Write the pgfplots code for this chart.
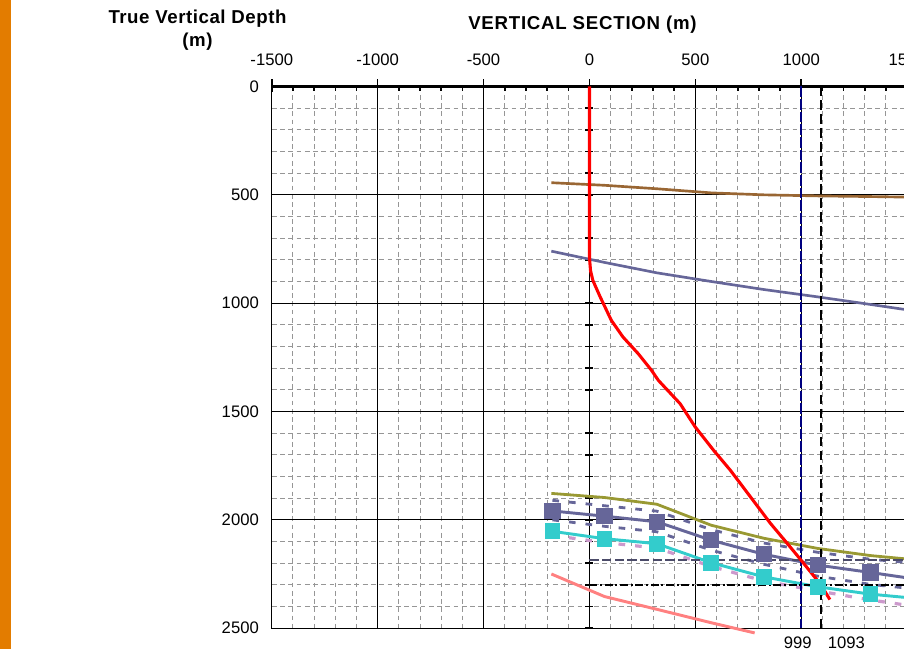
\documentclass[border=0pt]{standalone}
\usepackage{fontspec}
\setmainfont{Liberation Sans}
\usepackage{pgfplots}
\pgfplotsset{compat=1.18}

\definecolor{wellred}{RGB}{255,0,0}
\definecolor{hzbrown}{RGB}{153,102,51}
\definecolor{slate}{RGB}{102,102,153}
\definecolor{hzolive}{RGB}{153,153,51}
\definecolor{hzcyan}{RGB}{51,204,204}
\definecolor{lilac}{RGB}{204,153,204}
\definecolor{salmon}{RGB}{255,128,128}
\definecolor{navyline}{RGB}{0,0,128}
\definecolor{gridgray}{RGB}{150,150,150}
\definecolor{barorange}{RGB}{227,124,0}
\definecolor{tgtline}{RGB}{75,75,105}

\begin{document}
\begin{tikzpicture}
\begin{axis}[
  x=0.15885pt, y=0.1625pt,
  xmin=-1500, xmax=2000, ymin=0, ymax=2500,
  y dir=reverse,
  clip=false,
  xtick={-1500,-1000,...,2000},
  ytick={0,500,...,2500},
  minor x tick num=4, minor y tick num=4,
  grid=both,
  major grid style={black, line width=0.8pt},
  minor grid style={gridgray, line width=0.75pt, dash pattern=on 3.6pt off 2.6pt},
  major tick length=0pt, minor tick length=0pt,
  axis line style={black, line width=0.9pt},
  xticklabel pos=top,
  tick label style={font=\fontsize{12.5}{14}\selectfont},
  xticklabel style={anchor=base, yshift=15.9pt},
  yticklabel style={anchor=east, xshift=-6.2pt},
  /pgf/number format/assume math mode=true,
  /pgf/number format/set thousands separator={},
]
\coordinate (O) at (axis cs:-1500,0);

% top axis line and its tick marks
\draw[black, line width=1.7pt] (axis cs:-1500,0) -- (axis cs:2000,0);
\pgfplotsinvokeforeach{-1400,-1300,...,1900}{%
  \draw[black, line width=1.2pt] (axis cs:#1,0) -- ++(0pt,-3.4pt);
}
\pgfplotsinvokeforeach{-1500,-1000,...,2000}{%
  \draw[black, line width=1.2pt] (axis cs:#1,0) ++(0pt,5.4pt) -- ++(0pt,-9.3pt);
}
% depth axis through zero section
\draw[black, line width=1.1pt] (axis cs:0,0) -- (axis cs:0,2500);
\pgfplotsinvokeforeach{100,200,...,2500}{%
  \draw[black, line width=1.2pt] (axis cs:0,#1) ++(-3pt,0pt) -- ++(6pt,0pt);
}

% horizons
\addplot[hzbrown, line width=2pt] coordinates {
  (-180,444) (71,456) (318,472) (575,491) (823,500) (1078,505) (1327,508) (1600,512)};
\addplot[slate, line width=2pt] coordinates {
  (-180,760) (71,812) (318,860) (575,900) (823,937) (1078,971) (1327,1006) (1600,1045)};
\addplot[hzolive, line width=2.1pt] coordinates {
  (-180,1878) (71,1897) (318,1928) (575,2025) (823,2085) (1078,2132) (1327,2165) (1600,2190)};
\addplot[slate, line width=2.1pt, dash pattern=on 5pt off 7.5pt] coordinates {
  (-175,1910) (71,1935) (318,1960) (575,2045) (823,2107) (1078,2150) (1327,2182) (1600,2205)};
\addplot[slate, line width=2.1pt, dash pattern=on 5pt off 7.5pt] coordinates {
  (-175,2000) (71,2030) (318,2055) (575,2140) (823,2205) (1078,2260) (1327,2298) (1600,2325)};
\addplot[lilac, line width=2.4pt, dash pattern=on 5pt off 7.5pt] coordinates {
  (-175,2072) (71,2105) (318,2130) (575,2215) (823,2282) (1078,2328) (1327,2370) (1600,2408)};
\addplot[salmon, line width=2.2pt] coordinates {
  (-180,2250) (71,2354) (318,2413) (575,2475) (780,2522)};
\addplot[slate, line width=2.2pt, mark=square*, mark size=5pt] coordinates {
  (-175,1959) (71,1983) (318,2009) (575,2094) (823,2159) (1078,2209) (1327,2243) (1600,2282)};
\addplot[hzcyan, line width=2.2pt, mark=square*, mark size=4.8pt] coordinates {
  (-175,2053) (71,2087) (318,2110) (575,2198) (823,2263) (1078,2309) (1327,2343) (1600,2368)};

% target depths and sections
\addplot[tgtline, line width=1.8pt, dash pattern=on 7pt off 2.5pt] coordinates {(0,2185) (2000,2185)};
\addplot[black, line width=1.8pt, dash pattern=on 6pt off 2pt on 1.5pt off 2pt] coordinates {(0,2300) (2000,2300)};
\addplot[navyline, line width=1.7pt, dash pattern=on 8pt off 1.5pt] coordinates {(999,0) (999,2500)};
\addplot[black, line width=2pt, dash pattern=on 7pt off 3.5pt] coordinates {(1093,0) (1093,2500)};

% well path
\addplot[wellred, line width=2.3pt] coordinates {
  (0,0) (0,790) (5,850) (16,895) (50,970) (103,1079) (158,1156) (230,1233)
  (293,1310) (325,1356) (428,1464) (499,1571) (586,1679) (665,1771)
  (760,1894) (855,2017) (934,2109) (999,2186) (1093,2300) (1135,2368)};

\node[anchor=base, font=\fontsize{12.5}{14}\selectfont, xshift=-2.5pt, yshift=-15pt] at (axis cs:999,2500) {999};
\node[anchor=base, font=\fontsize{12.5}{14}\selectfont, xshift=19pt, yshift=-15pt] at (axis cs:1093,2500) {1093};
\end{axis}

\node[anchor=base, font=\bfseries\fontsize{14}{16}\selectfont\addfontfeature{LetterSpace=4}]
  at ([xshift=233pt, yshift=42.4pt]O) {VERTICAL SECTION (m)};
\node[anchor=base, font=\bfseries\fontsize{14}{16}\selectfont\addfontfeature{LetterSpace=3}]
  at ([xshift=-55.7pt, yshift=47.4pt]O) {True Vertical Depth};
\node[anchor=base, font=\bfseries\fontsize{14}{16}\selectfont\addfontfeature{LetterSpace=3}]
  at ([xshift=-55.7pt, yshift=29.9pt]O) {(m)};

\fill[barorange] ([xshift=-203.85pt, yshift=-421.875pt]O) rectangle ([xshift=-195.6pt, yshift=64.875pt]O);

\pgfresetboundingbox
\path[use as bounding box] ([xshift=-203.85pt, yshift=-421.875pt]O) rectangle ([xshift=474.15pt, yshift=64.875pt]O);
\end{tikzpicture}
\end{document}
